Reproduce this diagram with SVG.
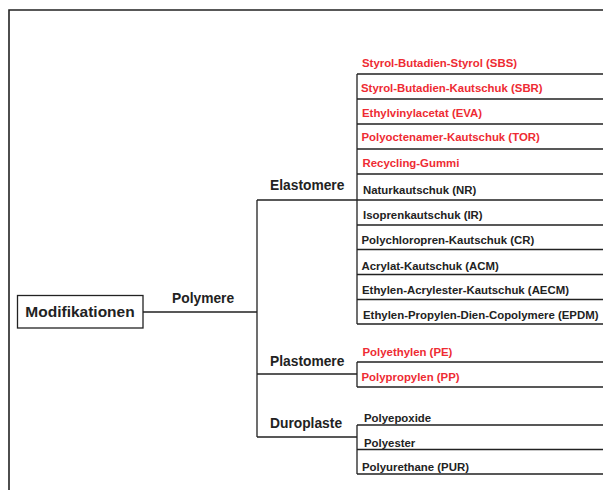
<svg xmlns="http://www.w3.org/2000/svg" width="603" height="490" viewBox="0 0 603 490">
<style>
.ln{stroke:#222;stroke-width:1.3;fill:none}
.frame{stroke:#222;stroke-width:1.6;fill:none}
text{font-family:"Liberation Sans",Arial,sans-serif;font-weight:bold}
.cat{font-size:13.8px;fill:#222}
.it{font-size:11.4px;fill:#222}
.red{fill:#ee2b33}
</style>
<rect width="603" height="490" fill="#fff"/>
<path class="frame" d="M9,490 V10 H603"/>
<g id="connectors">
<path class="ln" d="M143,312 H257 M257,200 V437 M257,374 H357 M257,437 H357"/>
<path class="ln" d="M357,74 V324 M357,74 H603 M357,99 H603 M357,124 H603 M357,149 H603 M357,174 H603 M257,200 H603 M357,225 H603 M357,249.5 H603 M357,274.5 H603 M357,299.5 H603 M357,324 H603"/>
<path class="ln" d="M357,362 V387 M357,362 H603 M357,387 H603"/>
<path class="ln" d="M357,425 V474 M357,425 H603 M357,449.5 H603 M357,474 H603"/>
</g>
<g id="modifikationen">
<rect x="17.5" y="295.5" width="125.5" height="32.5" fill="#fff" stroke="#222" stroke-width="1.3"/>
<text x="80" y="317" text-anchor="middle" font-size="15.5" fill="#222">Modifikationen</text>
</g>
<g id="polymere"><text class="cat" x="172" y="303">Polymere</text></g>
<g id="elastomere"><text class="cat" x="270" y="190">Elastomere</text></g>
<g id="plastomere"><text class="cat" x="270" y="366">Plastomere</text></g>
<g id="duroplaste"><text class="cat" x="270" y="428">Duroplaste</text></g>
<g id="sbs"><text class="it red" x="362" y="67">Styrol-Butadien-Styrol (SBS)</text></g>
<g id="sbr"><text class="it red" x="361" y="92">Styrol-Butadien-Kautschuk (SBR)</text></g>
<g id="eva"><text class="it red" x="362" y="116.5">Ethylvinylacetat (EVA)</text></g>
<g id="tor"><text class="it red" x="361.5" y="141">Polyoctenamer-Kautschuk (TOR)</text></g>
<g id="recycling"><text class="it red" x="362.5" y="167">Recycling-Gummi</text></g>
<g id="nr"><text class="it" x="363" y="194">Naturkautschuk (NR)</text></g>
<g id="ir"><text class="it" x="363" y="219">Isoprenkautschuk (IR)</text></g>
<g id="cr"><text class="it" x="361.5" y="244">Polychloropren-Kautschuk (CR)</text></g>
<g id="acm"><text class="it" x="361.5" y="269.5">Acrylat-Kautschuk (ACM)</text></g>
<g id="aecm"><text class="it" x="362" y="294">Ethylen-Acrylester-Kautschuk (AECM)</text></g>
<g id="epdm"><text class="it" x="363" y="319">Ethylen-Propylen-Dien-Copolymere (EPDM)</text></g>
<g id="pe"><text class="it red" x="362.5" y="356">Polyethylen (PE)</text></g>
<g id="pp"><text class="it red" x="361.5" y="381">Polypropylen (PP)</text></g>
<g id="polyepoxide"><text class="it" x="364" y="421.5">Polyepoxide</text></g>
<g id="polyester"><text class="it" x="364" y="446.5">Polyester</text></g>
<g id="pur"><text class="it" x="362" y="470.5">Polyurethane (PUR)</text></g>
</svg>
